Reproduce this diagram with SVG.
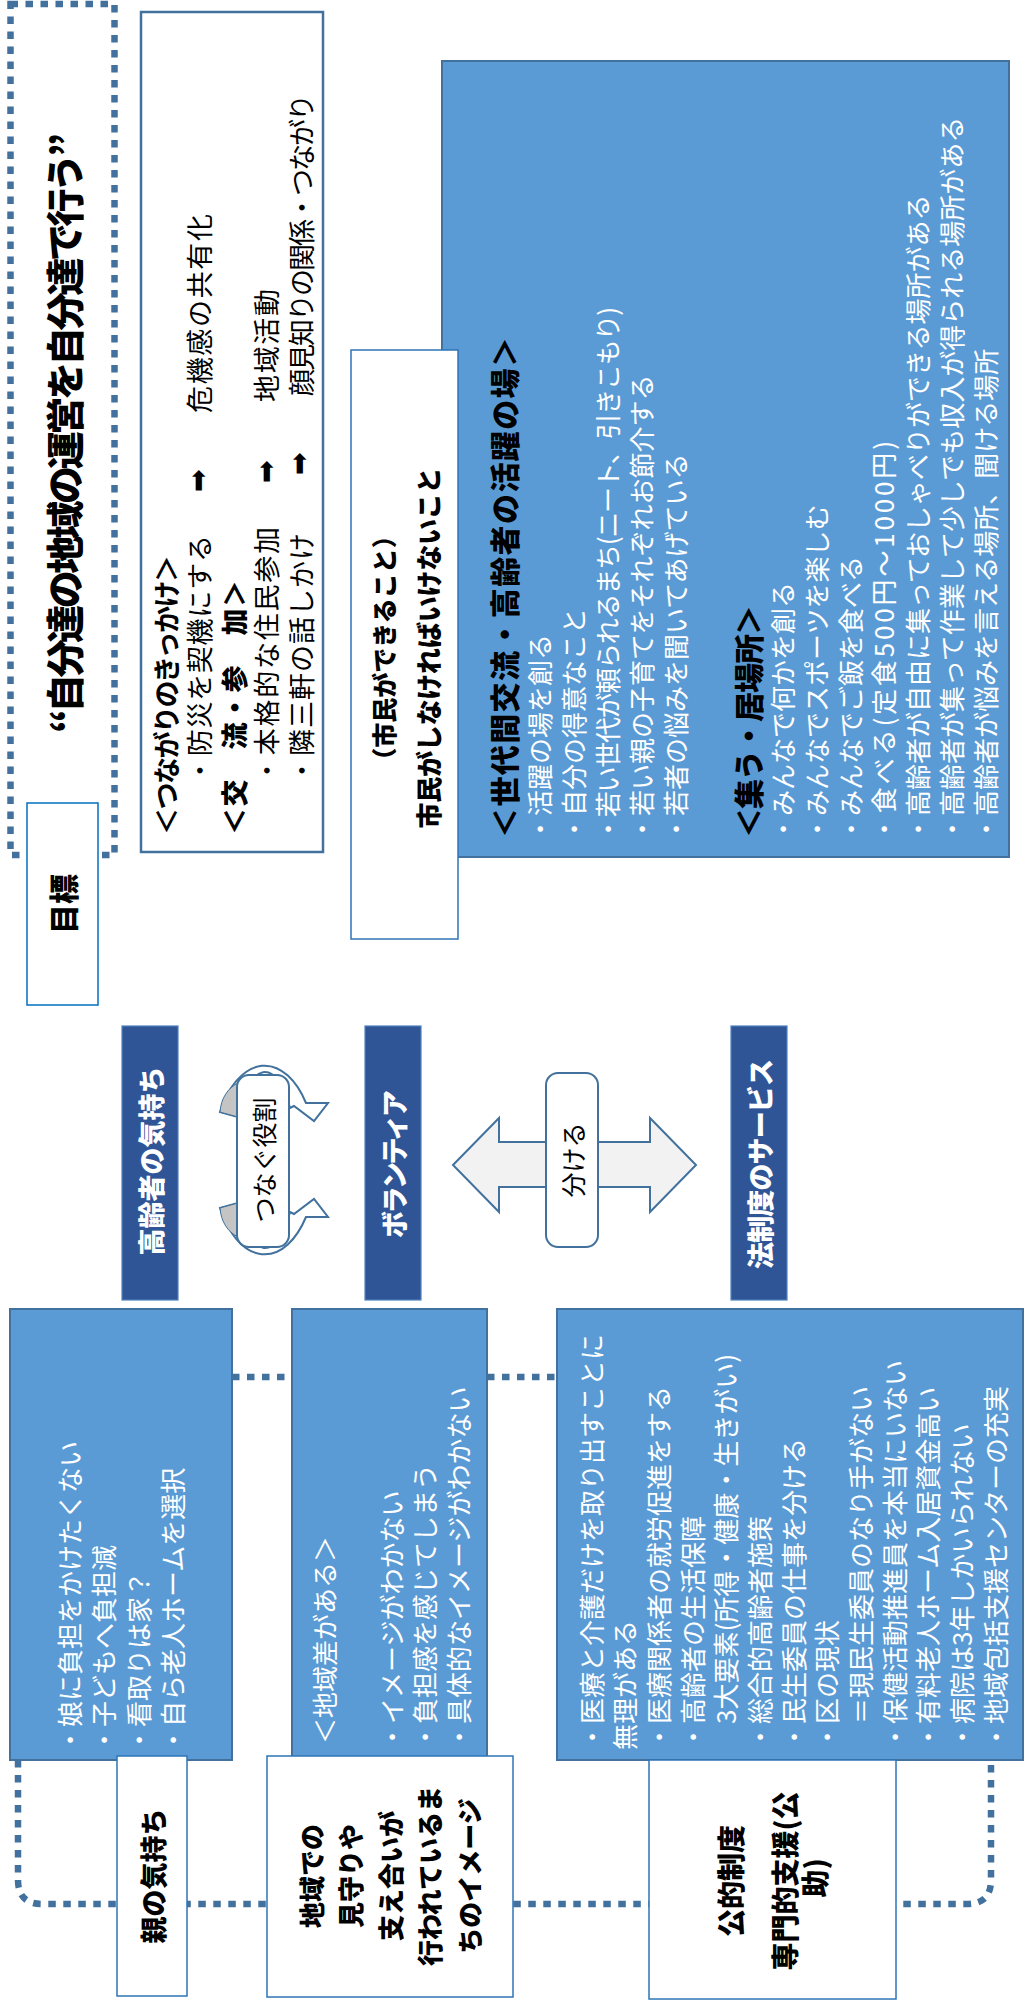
<svg xmlns="http://www.w3.org/2000/svg" width="1025" height="2010" viewBox="0 0 1025 2010">
<style>
text { font-family: "Noto Sans CJK JP", "Noto Sans CJK SC", sans-serif; dominant-baseline: central; }
.h { font-weight: 900; }
.w { fill: #ffffff; }
.k { fill: #000000; }
.mid { text-anchor: middle; }
.blue { fill: #5B9BD5; stroke: #41719C; stroke-width: 2; }
.dark { fill: #2F5597; stroke: #4F81BD; stroke-width: 1.2; }
.wbox { fill: #ffffff; stroke: #2E75B6; stroke-width: 1.5; }
.dot { fill: none; stroke: #41719C; stroke-width: 6.5; stroke-dasharray: 7.5 7.5; }
.ring { fill: #ffffff; stroke: #41719C; stroke-width: 2; }
.shade { fill: #C4C4C4; stroke: #41719C; stroke-width: 1; }
.arw { font-family: "DejaVu Sans", sans-serif; font-size: 27px; fill: #000; }
</style>
<rect width="1025" height="2010" fill="#ffffff"/>

<g id="connectors">
  <path class="dot" d="M 232 1377 H 557"/>
  <path class="dot" d="M 18 1760 V 1880 Q 18 1904 42 1904 H 967 Q 991 1904 991 1880 V 1760"/>
</g>

<g id="title">
  <rect x="10.5" y="4" width="104" height="851" class="dot"/>
  <g transform="translate(62,433) rotate(-90)">
    <text class="h k mid" font-size="38" textLength="600">“自分達の地域の運営を自分達で行う”</text>
  </g>
</g>

<g id="goal">
  <rect x="27" y="803" width="71" height="202" fill="#ffffff" stroke="#0070C0" stroke-width="1.5"/>
  <g transform="translate(62,904) rotate(-90)">
    <text class="h k mid" font-size="30">目標</text>
  </g>
</g>

<g id="tsunagari">
  <rect x="141" y="12" width="182" height="840" fill="#ffffff" stroke="#41719C" stroke-width="2.5"/>
  <g transform="translate(141,835) rotate(-90)" font-size="27" fill="#000">
    <text x="0" y="24" font-weight="700" textLength="280">＜つながりのきっかけ＞</text>
    <text x="51" y="57" textLength="249">・防災を契機にする</text>
    <text x="343" y="56" class="arw">➡</text>
    <text x="422" y="57" textLength="199">危機感の共有化</text>
    <text x="0" y="92" font-weight="900" textLength="255">＜交　流・参　加＞</text>
    <text x="51" y="124" textLength="257">・本格的な住民参加</text>
    <text x="352" y="124" class="arw">➡</text>
    <text x="433" y="124" textLength="113">地域活動</text>
    <text x="51" y="159" textLength="251">・隣三軒の話しかけ</text>
    <text x="360" y="157" class="arw">➡</text>
    <text x="439" y="159" textLength="302">顔見知りの関係・つながり</text>
  </g>
</g>

<g id="activities">
  <rect x="442" y="61" width="567" height="796" class="blue"/>
  <g transform="translate(442,842) rotate(-90)" font-size="26">
    <text x="4" y="61" class="h k" font-size="30" textLength="501">＜世代間交流・高齢者の活躍の場＞</text>
    <text x="0" y="96" class="w">・活躍の場を創る</text>
    <text x="0" y="130" class="w">・自分の得意なこと</text>
    <text x="0" y="164" class="w" textLength="535">・若い世代が頼られるまち(ニート、引きこもり)</text>
    <text x="0" y="198" class="w">・若い親の子育てをそれぞれお節介する</text>
    <text x="0" y="232" class="w">・若者の悩みを聞いてあげている</text>
    <text x="4" y="305" class="h k" font-size="30" textLength="233">＜集う・居場所＞</text>
    <text x="0" y="339" class="w">・みんなで何かを創る</text>
    <text x="0" y="373" class="w">・みんなでスポーツを楽しむ</text>
    <text x="0" y="407" class="w">・みんなでご飯を食べる</text>
    <text x="0" y="440" class="w" textLength="401">・食べる(定食500円～1000円)</text>
    <text x="0" y="474" class="w">・高齢者が自由に集っておしゃべりができる場所がある</text>
    <text x="0" y="508" class="w">・高齢者が集って作業して少しでも収入が得られる場所がある</text>
    <text x="0" y="542" class="w">・高齢者が悩みを言える場所、聞ける場所</text>
  </g>
</g>

<g id="citizen">
  <rect x="351" y="350" width="107" height="589" class="wbox"/>
  <g transform="translate(351,648) rotate(-90)">
    <text x="0" y="32" class="h k mid" font-size="25">（市民ができること）</text>
    <text x="0" y="76" class="h k mid" font-size="26" textLength="361">市民がしなければいけないこと</text>
  </g>
</g>

<g id="elderly-feeling">
  <rect x="122" y="1026" width="56" height="274" class="dark"/>
  <g transform="translate(150,1161) rotate(-90)">
    <text class="h w mid" font-size="27">高齢者の気持ち</text>
  </g>
</g>

<g id="connect-role">
  <path class="ring" d="M 220 1112 A 52 95 0 0 1 306 1103 L 328 1103 L 314 1121 L 294 1106 L 290 1108 A 30 80 0 0 0 238 1117 Z"/>
  <path class="shade" d="M 220 1112 L 238 1117 L 238 1083 C 228 1088 221 1098 220 1112 Z"/>
  <path class="ring" d="M 220 1208 A 52 95 0 0 0 306 1217 L 328 1217 L 314 1199 L 294 1214 L 290 1212 A 30 80 0 0 1 238 1203 Z"/>
  <path class="shade" d="M 220 1208 L 238 1203 L 238 1237 C 228 1232 221 1222 220 1208 Z"/>
  <rect x="237" y="1075" width="52" height="172" rx="12" ry="12" fill="#ffffff" stroke="#41719C" stroke-width="2"/>
  <g transform="translate(263,1160) rotate(-90)">
    <text class="k mid" font-size="25">つなぐ役割</text>
  </g>
</g>

<g id="volunteer">
  <rect x="365" y="1026" width="56" height="274" class="dark"/>
  <g transform="translate(393,1164) rotate(-90)">
    <text class="h w mid" font-size="27" textLength="148">ボランティア</text>
  </g>
</g>

<g id="divide">
  <polygon points="453,1165 499,1118 499,1142 650,1142 650,1118 696,1165 650,1212 650,1187 499,1187 499,1212" fill="#F2F2F2" stroke="#41719C" stroke-width="2"/>
  <rect x="546" y="1073" width="52" height="174" rx="12" ry="12" fill="#ffffff" stroke="#41719C" stroke-width="2"/>
  <g transform="translate(572,1160) rotate(-90)">
    <text class="k mid" font-size="25">分ける</text>
  </g>
</g>

<g id="legal-service">
  <rect x="731" y="1026" width="56" height="274" class="dark"/>
  <g transform="translate(759,1164) rotate(-90)">
    <text class="h w mid" font-size="27" textLength="210">法制度のサービス</text>
  </g>
</g>

<g id="parent-box">
  <rect x="10" y="1309" width="222" height="451" class="blue"/>
  <g transform="translate(10,1753) rotate(-90)" font-size="26">
    <text x="0" y="58" class="w">・娘に負担をかけたくない</text>
    <text x="0" y="92.5" class="w">・子どもへ負担減</text>
    <text x="0" y="127" class="w">・看取りは家？</text>
    <text x="0" y="161.5" class="w">・自ら老人ホームを選択</text>
  </g>
</g>

<g id="region-box">
  <rect x="292" y="1309" width="195" height="451" class="blue"/>
  <g transform="translate(292,1750) rotate(-90)" font-size="26">
    <text x="6" y="31" class="w">＜地域差がある＞</text>
    <text x="0" y="98" class="w">・イメージがわかない</text>
    <text x="0" y="131.5" class="w">・負担感を感じてしまう</text>
    <text x="0" y="165" class="w">・具体的なイメージがわかない</text>
  </g>
</g>

<g id="public-box">
  <rect x="557" y="1309" width="466" height="451" class="blue"/>
  <g transform="translate(557,1750) rotate(-90)" font-size="26">
    <text x="0" y="33" class="w">・医療と介護だけを取り出すことに</text>
    <text x="0" y="66.7" class="w">無理がある</text>
    <text x="0" y="100.3" class="w">・医療関係者の就労促進をする</text>
    <text x="0" y="134" class="w">・高齢者の生活保障</text>
    <text x="26" y="167.7" class="w">3大要素(所得・健康・生きがい)</text>
    <text x="0" y="201.3" class="w">・総合的高齢者施策</text>
    <text x="0" y="235" class="w">・民生委員の仕事を分ける</text>
    <text x="0" y="268.7" class="w">・区の現状</text>
    <text x="26" y="302.3" class="w">＝現民生委員のなり手がない</text>
    <text x="0" y="336" class="w">・保健活動推進員を本当にいない</text>
    <text x="0" y="369.7" class="w">・有料老人ホーム入居資金高い</text>
    <text x="0" y="403.3" class="w">・病院は3年しかいられない</text>
    <text x="0" y="437" class="w">・地域包括支援センターの充実</text>
  </g>
</g>

<g id="parent-label">
  <rect x="117" y="1756" width="70" height="240" class="wbox"/>
  <g transform="translate(152,1876) rotate(-90)">
    <text class="h k mid" font-size="27">親の気持ち</text>
  </g>
</g>

<g id="region-label">
  <rect x="267" y="1756" width="246" height="241" class="wbox"/>
  <g transform="translate(267,1876) rotate(-90)" font-size="26">
    <text x="0" y="43" class="h k mid">地域での</text>
    <text x="0" y="82.5" class="h k mid">見守りや</text>
    <text x="0" y="122" class="h k mid">支え合いが</text>
    <text x="0" y="161.5" class="h k mid">行われているま</text>
    <text x="0" y="201" class="h k mid">ちのイメージ</text>
  </g>
</g>

<g id="public-label">
  <rect x="649" y="1760" width="247" height="239" class="wbox"/>
  <g transform="translate(649,1881) rotate(-90)" font-size="28">
    <text x="0" y="81" class="h k mid">公的制度</text>
    <text x="0" y="135" class="h k mid">専門的支援(公</text>
    <text x="3" y="165" class="h k mid">助)</text>
  </g>
</g>
</svg>
